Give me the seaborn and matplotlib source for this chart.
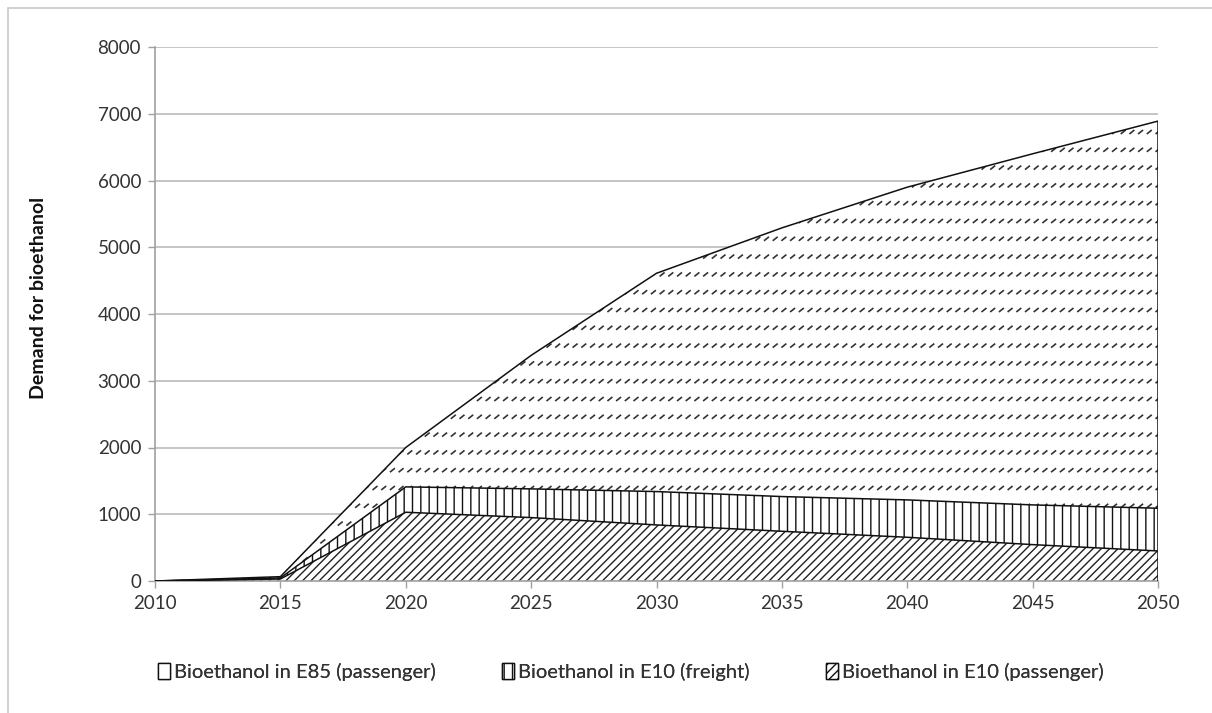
import numpy as np
import pandas as pd
import matplotlib
matplotlib.use("Agg")
import matplotlib.pyplot as plt
from matplotlib.patches import Patch, Rectangle
from matplotlib.collections import LineCollection
import seaborn as sns

# Demand for bioethanol by fuel blend and segment
years = [2010, 2015, 2020, 2025, 2030, 2035, 2040, 2045, 2050]
e10_passenger = [0, 30, 1030, 950, 840, 745, 655, 545, 450]
e10_freight = [0, 15, 380, 430, 500, 520, 560, 595, 640]
e85_passenger = [0, 20, 590, 2000, 3270, 4025, 4685, 5260, 5800]

series_names = ["Bioethanol in E85 (passenger)",
                "Bioethanol in E10 (freight)",
                "Bioethanol in E10 (passenger)"]
y_ticks = [0, 1000, 2000, 3000, 4000, 5000, 6000, 7000, 8000]
x_ticks = [2010, 2015, 2020, 2025, 2030, 2035, 2040, 2045, 2050]
y_label = "Demand for bioethanol"

df = pd.DataFrame({
    "year": years,
    "e10_passenger": e10_passenger,
    "e10_freight": e10_freight,
    "e85_passenger": e85_passenger,
})
df["lvl1"] = df["e10_passenger"]
df["lvl2"] = df["lvl1"] + df["e10_freight"]
df["lvl3"] = df["lvl2"] + df["e85_passenger"]

sns.set_theme(style="white")
plt.rcParams["font.family"] = ["Lato", "DejaVu Sans"]
plt.rcParams["hatch.linewidth"] = 1.0
plt.rcParams["hatch.color"] = "#222222"

fig = plt.figure(figsize=(12.12, 7.13), dpi=100)
ax = fig.add_axes([155 / 1212, 1 - 581 / 713, (1158 - 155) / 1212, (581 - 47) / 713])

x = df["year"].to_numpy()

# bottom layer: E10 passenger, fine diagonal hatch
ax.fill_between(x, 0, df["lvl1"], facecolor="white", edgecolor="#222222",
                hatch="////", linewidth=0.0, zorder=2)
# middle layer: E10 freight, vertical hatch
ax.fill_between(x, df["lvl1"], df["lvl2"], facecolor="white", edgecolor="#111111",
                hatch="||", linewidth=0.0, zorder=2)
# top layer: E85 passenger, rows of short dashes clipped to the area
top_poly = ax.fill_between(x, df["lvl2"], df["lvl3"], facecolor="white",
                           edgecolor="none", linewidth=0.0, zorder=2)

fig.canvas.draw()
bbox = ax.get_window_extent()
W, H = bbox.width, bbox.height
segs = []
row_gap = 17.8
col_gap = 8.7
dash_w, dash_h = 5.0, 4.0
yy = 2.0
while yy < H:
    xx = 0.0
    while xx < W:
        segs.append([(xx / W, yy / H), ((xx + dash_w) / W, (yy + dash_h) / H)])
        xx += col_gap
    yy += row_gap
lc = LineCollection(segs, colors="#333333", linewidths=1.2,
                    transform=ax.transAxes, zorder=3)
ax.add_collection(lc)
lc.set_clip_path(top_poly.get_paths()[0], top_poly.get_transform())

# boundary lines of the stacked layers
for col in ["lvl1", "lvl2", "lvl3"]:
    sns.lineplot(data=df, x="year", y=col, ax=ax, color="#111111",
                 linewidth=1.1, zorder=4, legend=False)
ax.vlines(x[-1], 0, df["lvl3"].iloc[-1], color="#111111", linewidth=1.1, zorder=4)

ax.set_xlim(2010, 2050)
ax.set_ylim(0, 8000)
ax.set_xticks(x_ticks)
ax.set_yticks(y_ticks)
ax.set_xticklabels([str(t) for t in x_ticks], fontsize=13.5, color="#333333")
ax.set_yticklabels([str(t) for t in y_ticks], fontsize=13.5, color="#333333")
ax.set_xlabel("")
ax.set_ylabel(y_label, fontsize=14, fontweight="bold", color="#111111")
ax.yaxis.set_label_coords(-0.108, 0.53)

ax.grid(axis="y", color="#c0c0c0", linewidth=1.3, zorder=0)
ax.grid(axis="x", visible=False)
ax.set_axisbelow(True)
for side in ["top", "right"]:
    ax.spines[side].set_visible(False)
for side in ["left", "bottom"]:
    ax.spines[side].set_color("#a0a0a0")
    ax.spines[side].set_linewidth(1.2)
ax.tick_params(axis="both", which="major", direction="out", length=5,
               width=1.0, color="#a0a0a0", pad=5, bottom=True, left=True)

handles = [
    Patch(facecolor="white", edgecolor="#111111", hatch="", linewidth=1.0),
    Patch(facecolor="white", edgecolor="#111111", hatch="||", linewidth=1.0),
    Patch(facecolor="white", edgecolor="#111111", hatch="////", linewidth=1.0),
]
# one legend entry per column, spread along the bottom
legend_x = [140 / 1212, 484 / 1212, 808 / 1212]
for h, name, lx in zip(handles, series_names, legend_x):
    leg = fig.legend([h], [name], loc="center left", bbox_to_anchor=(lx, 1 - 672 / 713),
                     frameon=False, fontsize=14.5, handlelength=0.6, handleheight=0.8,
                     handletextpad=0.2, labelcolor="#333333")
    fig.add_artist(leg)

fig.add_artist(Rectangle((8 / 1212, -0.1), 1.2, 1.1 - 8 / 713, transform=fig.transFigure,
                         fill=False, edgecolor="#c8c8c8", linewidth=1.2))

fig.savefig("out.png", dpi=100, facecolor="white")
